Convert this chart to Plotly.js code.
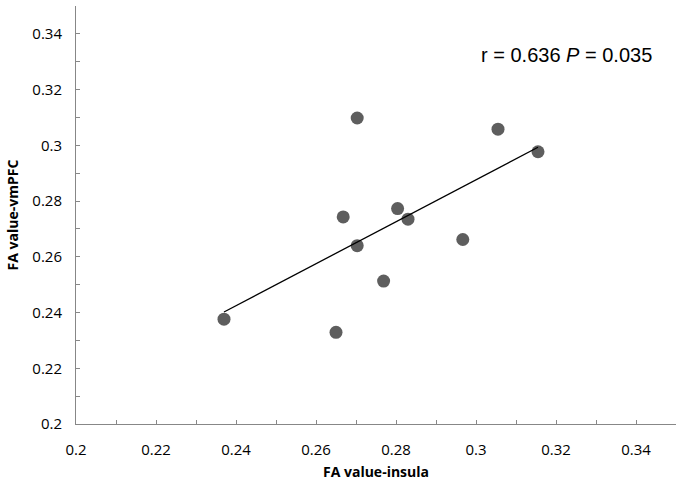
<!DOCTYPE html>
<html>
<head>
<meta charset="utf-8">
<script src="https://cdn.plot.ly/plotly-3.0.1.min.js"></script>
<style>html,body{margin:0;padding:0;background:#fff;}#chart{width:683px;height:486px;}</style>
</head>
<body>
<div id="chart"></div>
<script>
// Data
const insulaFA = [0.2370, 0.2650, 0.2703, 0.2668, 0.2703, 0.2769, 0.2804, 0.2830, 0.2967, 0.3055, 0.3155];
const vmpfcFA  = [0.2376, 0.2329, 0.3098, 0.2743, 0.2640, 0.2513, 0.2773, 0.2735, 0.2662, 0.3058, 0.2977];
// Fitted trend line end points
const trendX = [0.2370, 0.3155];
const trendY = [0.2402, 0.2993];
// Tick labels
const tickVals = [0.2, 0.22, 0.24, 0.26, 0.28, 0.3, 0.32, 0.34];
const tickText = ["0.2", "0.22", "0.24", "0.26", "0.28", "0.3", "0.32", "0.34"];
const statText = "r = 0.636 <i>P</i> = 0.035";

const axisCommon = {
  range: [0.2, 0.35],
  showgrid: false,
  zeroline: false,
  showline: true,
  linecolor: '#878787',
  linewidth: 1,
  ticks: 'inside',
  ticklen: 4,
  tickwidth: 1,
  tickcolor: '#878787',
  tickmode: 'array',
  tickvals: tickVals,
  ticktext: tickText,
  tickfont: {family: 'Open Sans, sans-serif', size: 15, color: '#000'},
  minor: {dtick: 0.01, tick0: 0.2, ticks: 'inside', ticklen: 4, tickwidth: 1, tickcolor: '#878787', showgrid: false},
  fixedrange: true
};

const traces = [
  {
    x: insulaFA, y: vmpfcFA, type: 'scatter', mode: 'markers',
    marker: {size: 13, color: '#5e5e5e'},
    hoverinfo: 'skip', showlegend: false
  },
  {
    x: trendX, y: trendY, type: 'scatter', mode: 'lines',
    line: {color: '#000', width: 1.3},
    hoverinfo: 'skip', showlegend: false
  }
];

const layout = {
  width: 683, height: 486,
  margin: {l: 76, r: 7, t: 6, b: 62},
  paper_bgcolor: '#fff', plot_bgcolor: '#fff',
  showlegend: false,
  xaxis: Object.assign({}, axisCommon, {
    ticklabelstandoff: 12,
    title: {text: 'FA value-insula', font: {family: 'Open Sans, sans-serif', size: 14, color: '#000', weight: 'bold'}, standoff: 9}
  }),
  yaxis: Object.assign({}, axisCommon, {
    ticklabelstandoff: 10,
    title: {text: 'FA value-vmPFC', font: {family: 'Open Sans, sans-serif', size: 14, color: '#000', weight: 'bold'}, standoff: 10}
  }),
  annotations: [{
    text: statText, xref: 'paper', yref: 'paper',
    x: 0.818, y: 0.882, xanchor: 'center', yanchor: 'middle',
    showarrow: false,
    font: {family: 'Liberation Sans, Arial, sans-serif', size: 20, color: '#000'}
  }]
};

Plotly.newPlot('chart', traces, layout, {staticPlot: true, displayModeBar: false});
</script>
</body>
</html>
